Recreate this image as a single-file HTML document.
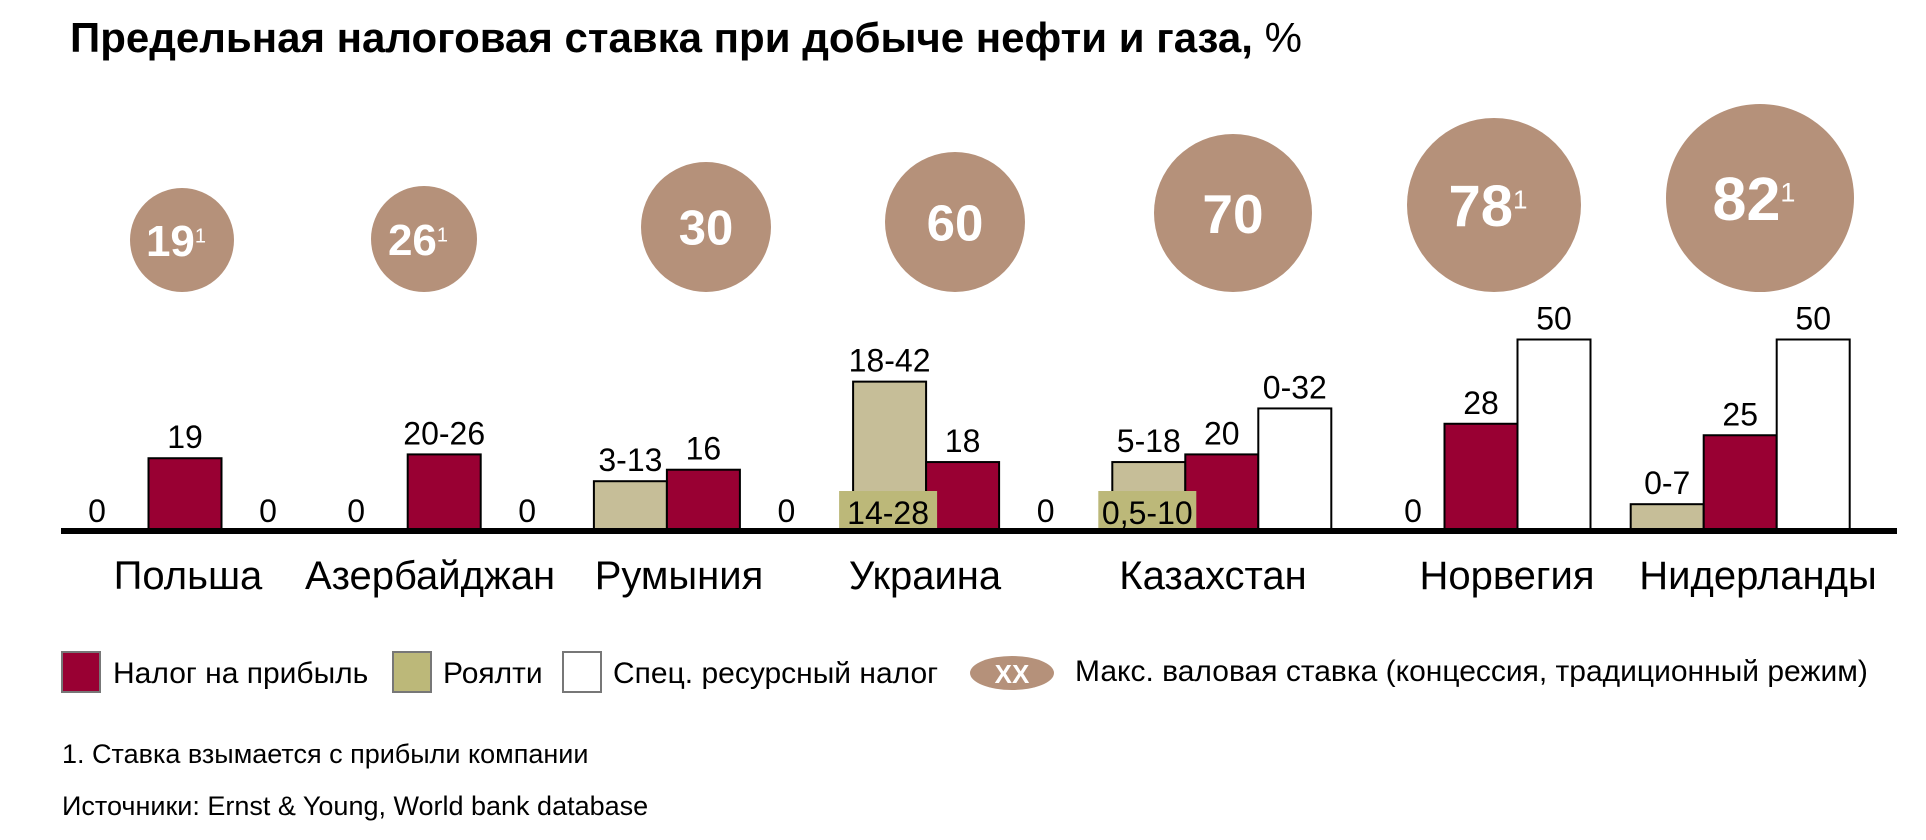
<!DOCTYPE html>
<html><head><meta charset="utf-8"><style>
body{margin:0;background:#fff}
svg{display:block;font-family:"Liberation Sans",Arial,sans-serif}
</style></head><body>
<svg id="c" width="1926" height="840" viewBox="0 0 1926 840" xmlns="http://www.w3.org/2000/svg">
<text x="70" y="52" font-size="42" font-weight="bold" fill="#000">Предельная налоговая ставка при добыче нефти и газа, <tspan font-weight="normal">%</tspan></text>
<g id="bars"></g>
<rect x="61" y="528" width="1836" height="6" fill="#000"/>
<g>
<rect x="62" y="652" width="38" height="40" fill="#990033" stroke="#777" stroke-width="2"/>
<text x="113" y="683" font-size="30">Налог на прибыль</text>
<rect x="393" y="652" width="38" height="40" fill="#bcb879" stroke="#777" stroke-width="2"/>
<text x="443" y="683" font-size="30">Роялти</text>
<rect x="563" y="652" width="38" height="40" fill="#fff" stroke="#777" stroke-width="2"/>
<text x="613" y="683" font-size="30">Спец. ресурсный налог</text>
<ellipse cx="1012" cy="673" rx="42" ry="17" fill="#b5917a"/>
<text x="1012" y="683" font-size="26" font-weight="bold" fill="#fff" text-anchor="middle">XX</text>
<text x="1075" y="681" font-size="30">Макс. валовая ставка (концессия, традиционный режим)</text>
</g>
<text x="62" y="763" font-size="27">1. Ставка взымается с прибыли компании</text>
<text x="62" y="815" font-size="27">Источники: Ernst &amp; Young, World bank database</text>
</svg>
<script>
const countries=["Польша","Азербайджан","Румыния","Украина","Казахстан","Норвегия","Нидерланды"];
const royalty=[0,0,13,39,18,0,7];
const royaltyLabels=["0","0","3-13","18-42","5-18","0","0-7"];
const royaltyBox=["","","","14-28","0,5-10","",""];
const profit=[19,20,16,18,20,28,25];
const profitLabels=["19","20-26","16","18","20","28","25"];
const special=[0,0,0,0,32,50,50];
const specialLabels=["0","0","0","0","0-32","50","50"];
const maxRate=[19,26,30,60,70,78,82];
const maxSup=["1","1","","","","1","1"];
const circleR=[52,53,65,70,79,87,94];
const circleX=[182,424,706,955,1233,1494,1760];
const labelX=[188,430,679,925,1213,1507,1758];
const NS="http://www.w3.org/2000/svg";
const g=document.getElementById('bars');
const base=531,unit=3.83,bw=73;
const xC=i=>185+i*259.2;
const yV=v=>base-v*unit;
function mk(t,a){const e=document.createElementNS(NS,t);for(const k in a)e.setAttribute(k,a[k]);g.appendChild(e);return e;}
function txt(x,y,s,size,extra){const e=mk('text',Object.assign({x:x,y:y,'font-size':size,'text-anchor':'middle'},extra||{}));e.textContent=s;return e;}
countries.forEach((c,i)=>{
  const cx=xC(i);
  const series=[[royalty[i],royaltyLabels[i],'#c6be98',cx-bw*1.5,'royalty'],[profit[i],profitLabels[i],'#990033',cx-bw/2,'profit'],[special[i],specialLabels[i],'#fff',cx+bw/2,'special']];
  series.forEach(s=>{
    if(s[0]>0){
      const r=mk('rect',{x:s[3],y:yV(s[0]),width:bw,height:s[0]*unit,fill:s[2],stroke:'#000','stroke-width':2});
      
      
      txt(s[3]+bw/2,yV(s[0])-10,s[1],32);
    }else if(s[1]){
      txt(s[3]+bw/2+(s[4]=='royalty'?(i==5?5:-15):10),522,s[1],32);
    }
  });
  if(royaltyBox[i]){
    const bx=cx-bw*1.5-14;
    const b=mk('rect',{x:bx,y:491,width:98,height:40,fill:'#bcb879'});
    
    
    txt(bx+49,524,royaltyBox[i],32);
  }
  const cr=circleR[i];
  const ci=mk('circle',{cx:circleX[i],cy:292-cr,r:cr,fill:'#b5917a'});
  
  
  const fs=Math.round(44+(cr-52)*0.4);
  const t=txt(circleX[i]-(maxSup[i]?6:0),292-cr+fs*0.36,String(maxRate[i]),fs,{'font-weight':'bold',fill:'#fff'});
  if(maxSup[i]){const sp=document.createElementNS(NS,'tspan');sp.setAttribute('font-size',Math.round(fs*0.45));sp.setAttribute('font-weight','normal');sp.setAttribute('dy',-fs*0.3);sp.textContent=maxSup[i];t.appendChild(sp);}
  const l=txt(labelX[i],589,c,40);
  
  
});
</script>
</body></html>
